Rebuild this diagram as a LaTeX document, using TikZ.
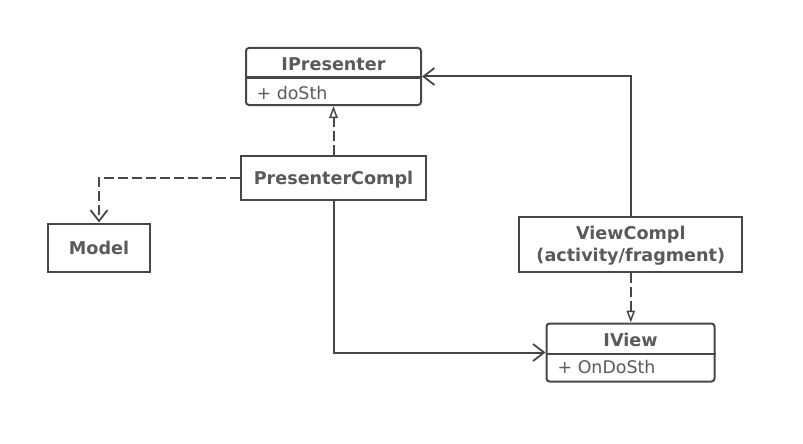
\documentclass[tikz,border=0pt]{standalone}
\usepackage{fontspec}
\setmainfont{DejaVu Sans}
\usetikzlibrary{arrows.meta}
\definecolor{linec}{HTML}{474747}
\definecolor{textc}{HTML}{5A5A5A}
\begin{document}
\begin{tikzpicture}[x=1pt,y=-1pt,
  box/.style={draw=linec, line width=2pt, fill=white, inner sep=0pt},
  titletext/.style={text=textc, font=\fontsize{17.6}{21.7}\selectfont\bfseries, inner sep=0pt, align=center},
  membertext/.style={text=textc, font=\fontsize{17.4}{21.7}\selectfont, inner sep=0pt, anchor=west},
  conn/.style={draw=linec, line width=2pt},
  dep/.style={conn, dash pattern=on 10pt off 4pt},
  vtip/.style={-{Straight Barb[length=11pt,width=17pt,line width=1.8pt]}},
  ttip/.style={-{Triangle[length=12pt,width=8.5pt,fill=white,line width=1.5pt]}}
]
\fill[white] (0,0) rectangle (803,444);
\useasboundingbox (0,0) rectangle (803,444);

% IPresenter
\node[box, rounded corners=3pt, minimum width=175pt, minimum height=57pt] (ip) at (333.5,76.5) {};
\draw[conn] ([yshift=-1pt]ip.west) -- ([yshift=-1pt]ip.east);
\node[titletext] (ipt) at (333.5,64) {IPresenter};
\node[membertext] (ipm) at (256.5,93) {+ doSth};

% PresenterCompl
\node[box, minimum width=185pt, minimum height=44pt] (pc) at (333.5,178) {};
\node[titletext] (pct) at (333.5,180) {PresenterCompl};

% Model
\node[box, minimum width=102pt, minimum height=48pt] (md) at (99,247.5) {};
\node[titletext] (mdt) at (99,248) {Model};

% ViewCompl
\node[box, minimum width=223pt, minimum height=55pt] (vc) at (630.8,244.2) {};
\node[titletext] (vct) at (630.8,246) {ViewCompl\\(activity/fragment)};

% IView
\node[box, rounded corners=3pt, minimum width=168pt, minimum height=58pt] (iv) at (630.5,352.5) {};
\draw[conn] ([yshift=-1.5pt]iv.west) -- ([yshift=-1.5pt]iv.east);
\node[titletext] (ivt) at (630.5,340) {IView};
\node[membertext] (ivm) at (557.5,367) {+ OnDoSth};

% connectors
\draw[dep, ttip] (pc.north) -- (ip.south);
\draw[dep, vtip] (pc.west) -| (md.north);
\draw[conn, vtip] (pc.south) |- (iv.west);
\draw[conn, vtip] (vc.north) |- (ip.east);
\draw[dep, ttip] (vc.south) -- (vc.south |- iv.north);
\end{tikzpicture}
\end{document}
